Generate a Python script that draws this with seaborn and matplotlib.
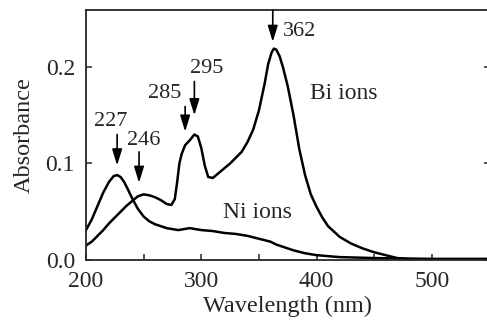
import numpy as np
import pandas as pd
import matplotlib
matplotlib.use("Agg")
import matplotlib.pyplot as plt
import seaborn as sns
from matplotlib.ticker import MultipleLocator

# Bi ions spectrum
bi_wl = [200, 205, 210, 215, 220, 225, 230, 235, 240, 245, 250, 255, 260, 265,
         270, 274, 277, 279, 281, 283, 286, 290, 294, 297, 300, 303, 306, 310,
         315, 320, 325, 330, 335, 340, 345, 350, 355, 358, 361, 363, 365, 368,
         371, 375, 380, 385, 390, 395, 400, 405, 410, 420, 430, 440, 450, 460,
         470, 480, 550]
bi_abs = [0.015, 0.019, 0.025, 0.031, 0.038, 0.044, 0.050, 0.056, 0.061, 0.066,
          0.068, 0.067, 0.065, 0.062, 0.058, 0.057, 0.063, 0.080, 0.100, 0.110,
          0.119, 0.124, 0.130, 0.128, 0.116, 0.098, 0.086, 0.085, 0.090, 0.095,
          0.100, 0.106, 0.112, 0.122, 0.135, 0.155, 0.183, 0.203, 0.215, 0.219,
          0.218, 0.211, 0.199, 0.180, 0.150, 0.115, 0.088, 0.068, 0.055, 0.044,
          0.035, 0.024, 0.017, 0.012, 0.008, 0.005, 0.002, 0.001, 0.001]

# Ni ions spectrum
ni_wl = [200, 205, 210, 215, 220, 224, 227, 230, 233, 236, 240, 245, 250, 255,
         260, 270, 280, 290, 300, 310, 320, 330, 340, 350, 360, 365, 370, 380,
         390, 400, 420, 450, 500, 550]
ni_abs = [0.031, 0.042, 0.056, 0.070, 0.081, 0.087, 0.088, 0.086, 0.081, 0.074,
          0.064, 0.053, 0.045, 0.040, 0.037, 0.033, 0.031, 0.033, 0.031, 0.030,
          0.028, 0.027, 0.025, 0.022, 0.019, 0.016, 0.014, 0.010, 0.007, 0.005,
          0.003, 0.002, 0.001, 0.001]

# peak markers: wavelength, arrow tail, arrow tip, label pos
peak_labels = ["227", "246", "285", "295", "362"]
peak_wl = [227, 246, 286, 294, 362]
arrow_top = [0.130, 0.112, 0.159, 0.185, 0.259]
arrow_tip = [0.098, 0.080, 0.133, 0.150, 0.226]
label_x = [221, 250, 268, 305, 385]
label_y = [0.143, 0.124, 0.172, 0.198, 0.237]

sns.set_style("ticks")
plt.rcParams["font.family"] = ["Liberation Serif", "DejaVu Serif"]

fig = plt.figure(figsize=(4.87, 3.29), dpi=100)
ax = fig.add_axes([86 / 487, 69 / 329, (489.5 - 86) / 487, 250 / 329])

bi = pd.DataFrame({"wl": bi_wl, "A": bi_abs})
ni = pd.DataFrame({"wl": ni_wl, "A": ni_abs})
sns.lineplot(data=bi, x="wl", y="A", color="black", lw=1.8, ax=ax)
sns.lineplot(data=ni, x="wl", y="A", color="black", lw=1.8, ax=ax)

for lab, wl, top, tip, lx, ly in zip(peak_labels, peak_wl, arrow_top, arrow_tip, label_x, label_y):
    ax.annotate("", xy=(wl, tip), xytext=(wl, top),
                arrowprops=dict(arrowstyle="-|>,head_length=0.65,head_width=0.2",
                                mutation_scale=15, color="black", lw=1.2,
                                shrinkA=0, shrinkB=0))
    ax.text(lx, ly, lab, fontsize=16, ha="center", va="center")

ax.text(424, 0.172, "Bi ions", fontsize=17, ha="center", va="center")
ax.text(349, 0.049, "Ni ions", fontsize=17, ha="center", va="center")

ax.set_xlim(200, 550)
ax.set_ylim(0, 0.259)
ax.xaxis.set_major_locator(MultipleLocator(100))
ax.xaxis.set_minor_locator(MultipleLocator(50))
ax.yaxis.set_major_locator(MultipleLocator(0.1))
ax.yaxis.set_major_formatter(matplotlib.ticker.FormatStrFormatter("%.1f"))
ax.tick_params(axis="both", which="both", direction="in", width=1.1,
               labelsize=17, pad=8, right=True)
ax.tick_params(which="major", length=4)
ax.tick_params(which="minor", length=4)
for sp in ax.spines.values():
    sp.set_linewidth(1.3)

ax.set_xlabel("Wavelength (nm)", fontsize=17.5, labelpad=3)
ax.set_ylabel("Absorbance", fontsize=17.5, labelpad=8)

fig.savefig("out.png", dpi=100)
